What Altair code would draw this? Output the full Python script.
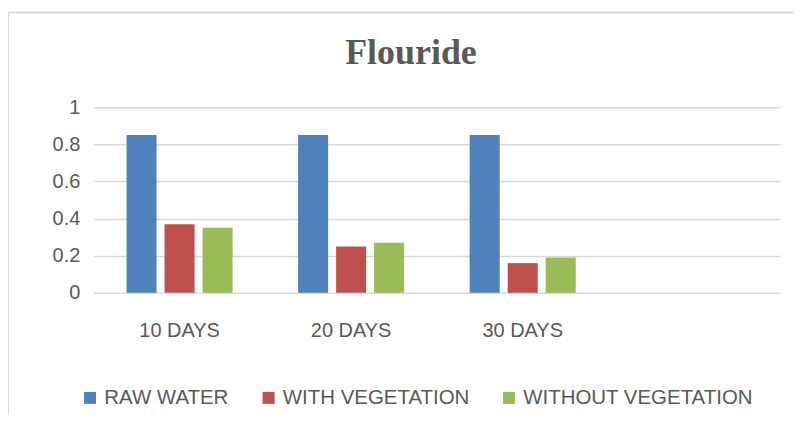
import altair as alt
import pandas as pd

categories = ["10 DAYS", "20 DAYS", "30 DAYS"]
series = ["RAW WATER", "WITH VEGETATION", "WITHOUT VEGETATION"]
raw_water = [0.85, 0.85, 0.85]
with_veg = [0.37, 0.25, 0.16]
without_veg = [0.35, 0.27, 0.19]
colors = ["#4f81bd", "#c0504d", "#9bbb59"]
x_domain = categories + [" "]
title_text = "Flouride"

rows = []
for i, c in enumerate(categories):
    for s, vals in zip(series, [raw_water, with_veg, without_veg]):
        rows.append({"cat": c, "series": s, "value": vals[i]})
df = pd.DataFrame(rows)

W, H = 688, 186
FONT = "Liberation Sans"
FS = 20

bars = alt.Chart(df).mark_bar().encode(
    x=alt.X("cat:N", scale=alt.Scale(domain=x_domain, paddingInner=0.382, paddingOuter=0.191),
            axis=alt.Axis(title=None, labelAngle=0, ticks=False, domain=False,
                          labelPadding=28, labelFontSize=FS, labelColor="#595959",
                          labelFont=FONT)),
    xOffset=alt.XOffset("series:N", sort=series,
                        scale=alt.Scale(paddingInner=0.21, paddingOuter=0)),
    y=alt.Y("value:Q", scale=alt.Scale(domain=[0, 1]),
            axis=alt.Axis(title=None, values=[0, 0.2, 0.4, 0.6, 0.8, 1], format="~g",
                          ticks=False, domain=False, labelPadding=14, labelFontSize=FS,
                          labelColor="#595959", labelFont=FONT,
                          gridColor="#d9d9d9", gridWidth=1.5)),
    color=alt.Color("series:N", sort=series,
                    scale=alt.Scale(domain=series, range=colors),
                    legend=alt.Legend(title=None, orient="none", direction="horizontal",
                                      legendX=-14, legendY=281, symbolType="square",
                                      symbolSize=144, symbolStrokeWidth=0,
                                      labelFontSize=20.5, labelColor="#595959", labelLimit=0,
                                      labelFont=FONT, columnPadding=29, labelOffset=4)),
)

border = alt.Chart(pd.DataFrame({"a": [0]})).mark_rect(
    fill=None, stroke="#d9d9d9", strokeWidth=2
).encode(x=alt.value(-86), x2=alt.value(W + 60), y=alt.value(-95), y2=alt.value(H + 200))

title = alt.Chart(pd.DataFrame({"t": [title_text]})).mark_text(
    font="Liberation Serif", fontSize=36, fontWeight="bold", color="#595959",
    align="center", baseline="alphabetic"
).encode(text="t:N", x=alt.value(318), y=alt.value(-43))

chart = alt.layer(border, bars, title).properties(
    width=W, height=H,
    autosize=alt.AutoSizeParams(type="none"),
    padding={"left": 86, "top": 99, "right": 14, "bottom": 121},
).configure_view(stroke=None)

chart.save("out.html", embed_options={"renderer": "svg", "actions": False})
